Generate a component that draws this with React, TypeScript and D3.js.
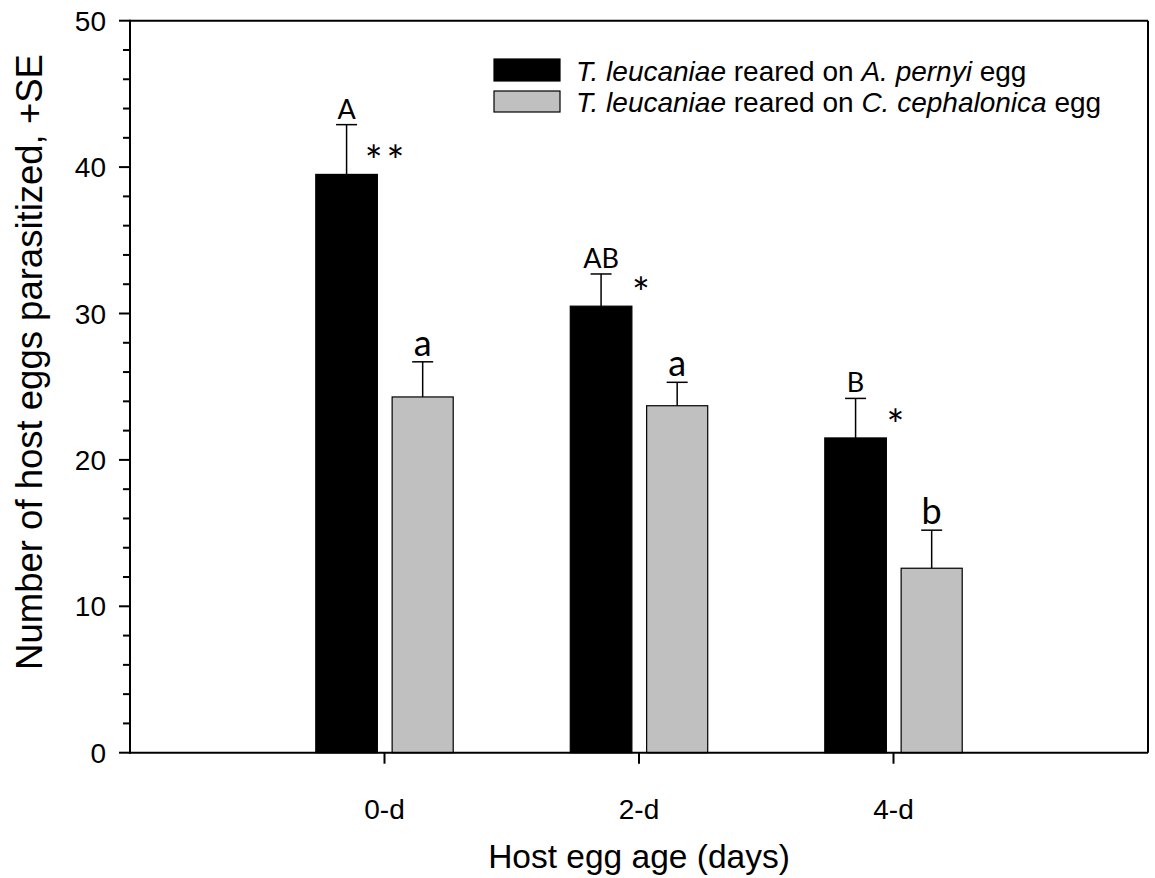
import React from 'react';
import * as d3 from 'd3';

const categories = ['0-d', '2-d', '4-d'];
const perny = [39.5, 30.5, 21.5];
const pernySE = [3.4, 2.2, 2.7];
const ceph = [24.3, 23.7, 12.6];
const cephSE = [2.4, 1.6, 2.6];
const upperLetters = ['A', 'AB', 'B'];
const lowerLetters = ['a', 'a', 'b'];
const stars = ['**', '*', '*'];
const yTicks = [0, 10, 20, 30, 40, 50];

const W = 1155;
const H = 878;
const left = 130;
const right = 1148;
const top = 20.7;
const bottom = 752.7;

const sans = '"Liberation Sans", Arial, sans-serif';
const annot = 'Lato, "Open Sans", sans-serif';
const gray = '#c0c0c0';

const App = () => {
  const x = d3.scaleLinear().domain([-1, 3]).range([left, right]);
  const y = d3.scaleLinear().domain([0, 50]).range([bottom, top]);
  const minor = d3.range(0, 51, 2).filter((v) => v % 10 !== 0);

  // bar extents in category units, relative to the tick
  const blackSpan = [-0.27, -0.028];
  const graySpan = [0.03, 0.27];
  const capHalf = 10.5;

  const series = [
    { vals: perny, se: pernySE, span: blackSpan, fill: '#000' },
    { vals: ceph, se: cephSE, span: graySpan, fill: gray },
  ];

  return (
    <svg width={W} height={H} style={{ position: 'absolute', left: 0, top: 0, background: '#fff' }}>
      {/* bars + error bars */}
      {series.map((s, si) =>
        s.vals.map((v, i) => {
          const x0 = x(i + s.span[0]);
          const x1 = x(i + s.span[1]);
          const cx = (x0 + x1) / 2;
          const yTop = y(v + s.se[i]);
          return (
            <g key={`${si}-${i}`}>
              <line x1={cx} x2={cx} y1={y(v)} y2={yTop} stroke="#000" strokeWidth={1.5} />
              <line x1={cx - capHalf} x2={cx + capHalf} y1={yTop} y2={yTop} stroke="#000" strokeWidth={1.5} />
              <rect x={x0} y={y(v)} width={x1 - x0} height={y(0) - y(v)} fill={s.fill} stroke="#000" strokeWidth={1.2} />
              <text
                x={cx}
                y={yTop - 6}
                textAnchor="middle"
                fontFamily={annot}
                fontSize={si === 0 ? 27 : 36}
                fill="#000"
              >
                {si === 0 ? upperLetters[i] : lowerLetters[i]}
              </text>
            </g>
          );
        })
      )}

      {/* significance stars */}
      {stars.map((st, i) => (
        <text
          key={`st-${i}`}
          x={x(i) + 2}
          y={y(perny[i]) - 21 + 23}
          textAnchor="middle"
          fontFamily={annot}
          fontSize={42}
          letterSpacing={st.length > 1 ? 4 : 0}
          fill="#000"
        >
          {st}
        </text>
      ))}

      {/* frame */}
      <line x1={left} x2={right} y1={top} y2={top} stroke="#000" strokeWidth={2} />
      <line x1={right} x2={right} y1={top} y2={bottom} stroke="#000" strokeWidth={2} />
      <line x1={left} x2={left} y1={top - 1} y2={bottom + 1} stroke="#000" strokeWidth={2} />
      <line x1={left - 1} x2={right} y1={bottom} y2={bottom} stroke="#000" strokeWidth={2} />

      {/* y ticks */}
      {yTicks.map((t) => (
        <g key={`yt-${t}`}>
          <line x1={left - 11} x2={left} y1={y(t)} y2={y(t)} stroke="#000" strokeWidth={2} />
          <text x={106} y={y(t)} dy="0.36em" textAnchor="end" fontFamily={sans} fontSize={28} fill="#000">
            {t}
          </text>
        </g>
      ))}
      {minor.map((t) => (
        <line key={`ym-${t}`} x1={left - 7} x2={left} y1={y(t)} y2={y(t)} stroke="#000" strokeWidth={2} />
      ))}

      {/* x ticks */}
      {categories.map((c, i) => (
        <g key={`xt-${c}`}>
          <line x1={x(i)} x2={x(i)} y1={bottom} y2={bottom + 11} stroke="#000" strokeWidth={2} />
          <text x={x(i)} y={819} textAnchor="middle" fontFamily={sans} fontSize={28} fill="#000">
            {c}
          </text>
        </g>
      ))}

      {/* axis titles */}
      <text x={(left + right) / 2} y={868} textAnchor="middle" fontFamily={sans} fontSize={33.5} fill="#000">
        Host egg age (days)
      </text>
      <text
        transform="translate(42,362) rotate(-90)"
        textAnchor="middle"
        fontFamily={sans}
        fontSize={36.5}
        fill="#000"
      >
        Number of host eggs parasitized, +SE
      </text>

      {/* legend */}
      <rect x={494} y={59} width={66} height={22} fill="#000" stroke="#000" strokeWidth={1.2} />
      <rect x={494} y={91} width={66} height={21} fill={gray} stroke="#000" strokeWidth={1.2} />
      <text x={576} y={81} fontFamily={sans} fontSize={28} fill="#000">
        <tspan fontStyle="italic">T. leucaniae</tspan> reared on <tspan fontStyle="italic">A. pernyi</tspan> egg
      </text>
      <text x={576} y={112} fontFamily={sans} fontSize={28} fill="#000">
        <tspan fontStyle="italic">T. leucaniae</tspan> reared on <tspan fontStyle="italic">C. cephalonica</tspan> egg
      </text>
    </svg>
  );
};

export default App;
